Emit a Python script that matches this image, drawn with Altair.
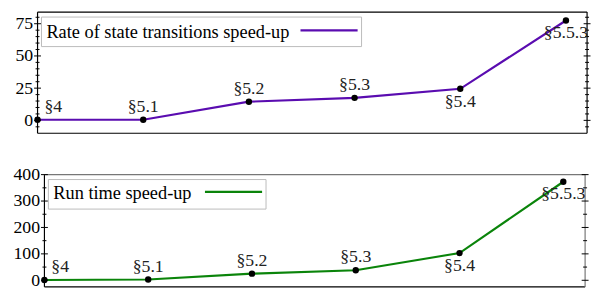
import altair as alt
import pandas as pd

labels = ["§4", "§5.1", "§5.2", "§5.3", "§5.4", "§5.5.3"]
steps = [0, 1, 2, 3, 4, 5]
label_place = ["right", "above", "above", "above", "below", "below"]

rate_values = [0.5, 0.5, 14.5, 17.5, 24.5, 77.5]
runtime_values = [1, 3, 25, 38, 103, 373]

rate_major = [0, 25, 50, 75]
rate_minor = [-5, 5, 10, 15, 20, 30, 35, 40, 45, 55, 60, 65, 70, 80]
runtime_major = [0, 100, 200, 300, 400]
runtime_minor = [50, 150, 250, 350]

FONT = "Liberation Serif"
FS = 18


def panel(values, color, legend_text, major, minor, ydomain, xdomain, width, height,
          off, label_pad, legend_w, line_x0, line_x1, text_y, line_y, top_col, right_col):
    df = pd.DataFrame({"step": steps, "value": values, "label": labels,
                       "place": label_place})
    x = alt.X("step:Q", scale=alt.Scale(domain=xdomain, nice=False, zero=False), axis=None)
    y = alt.Y("value:Q", scale=alt.Scale(domain=ydomain, nice=False, zero=False),
              axis=alt.Axis(values=major, ticks=False, domain=False, grid=False,
                            labelFont=FONT, labelFontSize=FS, labelColor="black",
                            labelPadding=label_pad, minExtent=29, maxExtent=29),
              title=None)
    base = alt.Chart(df)
    line = base.mark_line(color=color, strokeWidth=2.2).encode(x=x, y=y)
    pts = base.mark_circle(color="black", size=42, opacity=1).encode(x=x, y=y)
    t_right = base.transform_filter(alt.datum.place == "right").mark_text(
        align="left", baseline="alphabetic", dx=7, dy=-8, font=FONT, fontSize=FS,
        color="#222").encode(x=x, y=y, text="label:N")
    t_above = base.transform_filter(alt.datum.place == "above").mark_text(
        align="center", baseline="alphabetic", dy=-8, font=FONT, fontSize=FS,
        color="#222").encode(x=x, y=y, text="label:N")
    t_below = base.transform_filter(alt.datum.place == "below").mark_text(
        align="center", baseline="alphabetic", dy=18, font=FONT, fontSize=FS,
        color="#222").encode(x=x, y=y, text="label:N")

    maj = alt.Chart(pd.DataFrame({"value": major}))
    mnr = alt.Chart(pd.DataFrame({"value": minor}))
    ticks = [
        maj.mark_rule(color="black", strokeWidth=1).encode(
            y=y, x=alt.value(off - 3.5), x2=alt.value(off + 3.5)),
        mnr.mark_rule(color="black", strokeWidth=1).encode(
            y=y, x=alt.value(off - 2), x2=alt.value(off + 2)),
        maj.mark_rule(color="black", strokeWidth=1).encode(
            y=y, x=alt.value(width - 3.5), x2=alt.value(width + 3.5)),
        mnr.mark_rule(color="black", strokeWidth=1).encode(
            y=y, x=alt.value(width - 2), x2=alt.value(width + 2)),
    ]

    one = alt.Chart(pd.DataFrame({"t": [legend_text]}))
    frame = [
        one.mark_rule(color="black", strokeWidth=1.2).encode(
            x=alt.value(off), y=alt.value(0), y2=alt.value(height)),
        one.mark_rule(color="black", strokeWidth=1.2).encode(
            x=alt.value(off), x2=alt.value(width), y=alt.value(height)),
        one.mark_rule(color=top_col, strokeWidth=1.2).encode(
            x=alt.value(off), x2=alt.value(width), y=alt.value(0)),
        one.mark_rule(color=right_col, strokeWidth=1.2).encode(
            x=alt.value(width), y=alt.value(0), y2=alt.value(height)),
    ]
    box = one.mark_rect(fill="white", stroke="#bbbbbb", strokeWidth=1).encode(
        x=alt.value(off + 4), x2=alt.value(off + 4 + legend_w), y=alt.value(5), y2=alt.value(35))
    ltxt = one.mark_text(align="left", baseline="alphabetic", font=FONT, fontSize=18.6,
                         color="black").encode(x=alt.value(off + 9), y=alt.value(text_y), text="t:N")
    lline = one.mark_rule(color=color, strokeWidth=2.2).encode(
        x=alt.value(off + line_x0), x2=alt.value(off + line_x1), y=alt.value(line_y))

    return alt.layer(line, *frame, *ticks, box, ltxt, lline, pts, t_right, t_above, t_below).properties(
        width=width, height=height)


top = panel(rate_values, "#5a0cb0", "Rate of state transitions speed-up",
            rate_major, rate_minor, [-10, 84], [0, 5.2], 558, 123, 0, 5,
            325, 267, 325, 26, 18.5, "black", "black")
bottom = panel(runtime_values, "#0a840a", "Run time speed-up",
               runtime_major, runtime_minor, [-25, 400], [-0.066, 5.21], 556, 114, 7, -2,
               221, 163, 221, 25, 17.5, "#777777", "#777777")

chart = alt.vconcat(top, bottom, spacing=42, bounds="flush").properties(
    padding={"left": 0, "top": 0, "right": 0, "bottom": 0}
).configure_view(stroke="transparent")

chart.save("out.html", embed_options={"renderer": "svg", "actions": False})
